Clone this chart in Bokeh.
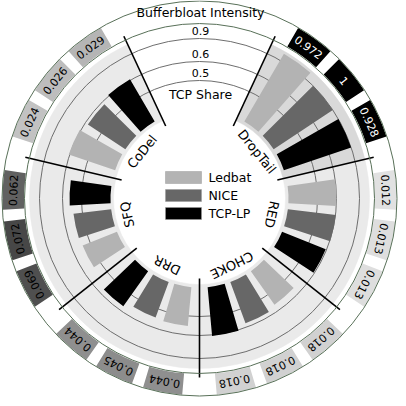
import numpy as np
from bokeh.plotting import figure
from bokeh.models import Range1d, ColumnDataSource, LinearColorMapper
from bokeh.palettes import Greys256
from bokeh.embed import file_html
from bokeh.resources import INLINE
from bokeh.core.properties import value

# ---------------- data ----------------
aqms = ["DropTail", "RED", "CHOKE", "DRR", "SFQ", "CoDel"]
protocols = ["Ledbat", "NICE", "TCP-LP"]
share_ledbat = [1.0, 0.600, 0.563, 0.553, 0.542, 0.613]
share_nice = [0.9, 0.605, 0.579, 0.547, 0.547, 0.584]
share_tcplp = [0.9, 0.595, 0.613, 0.574, 0.563, 0.613]
bloat_ledbat = [0.972, 0.012, 0.018, 0.044, 0.069, 0.024]
bloat_nice = [1, 0.013, 0.018, 0.045, 0.072, 0.026]
bloat_tcplp = [0.928, 0.013, 0.018, 0.044, 0.062, 0.029]
tick_values = [0.5, 0.6, 0.9]

# ---------------- layout / style ----------------
FONT = "DejaVu Sans"
CX, CY = 207.0, -206.0
R_OUT = 197.5
R_RING_IN = 175.0
R_BAND_IN, R_BAND_OUT = 86.0, 170.0
R_BAR0 = 89.0
TICK_R = [118.0, 137.0, 160.0]
R_LABEL = 74.0
R_SEP = (80.0, 179.0)
GAP = np.deg2rad(25.0)
SLOT = np.deg2rad([-15.0, 0.0, 15.0])
BAR_HW = np.deg2rad(5.6)
CELL_HW = np.deg2rad(5.8)
prot_colors = ["#b3b3b3", "#676767", "#000000"]
RING_COLOR = "#587058"
GRID_COLOR = "#6e6e6e"
BAND_LIGHT = "#eaeaea"
BAND_DARK = "#d9d9d9"


def share_to_r(v):
    v = np.asarray(v, float)
    r = np.interp(v, tick_values, TICK_R)
    lo = (TICK_R[1] - TICK_R[0]) / (tick_values[1] - tick_values[0])
    hi = (TICK_R[2] - TICK_R[1]) / (tick_values[2] - tick_values[1])
    r = np.where(v < tick_values[0], TICK_R[0] + (v - tick_values[0]) * lo, r)
    r = np.where(v > tick_values[-1], TICK_R[-1] + (v - tick_values[-1]) * hi, r)
    return r


def px(r, th):
    return CX + r * np.sin(th), CY + r * np.cos(th)


n = len(aqms)
span = (2 * np.pi - 2 * GAP) / n
sec_start = GAP + span * np.arange(n)
sec_center = sec_start + span / 2

shares = [share_ledbat, share_nice, share_tcplp]
bloats = [bloat_ledbat, bloat_nice, bloat_tcplp]

bar = dict(r=[], c=[], sa=[], ea=[])
cell = dict(v=[], txt=[], tc=[], sa=[], ea=[], x=[], y=[], ang=[])
for i in range(n):
    for j in range(3):
        th = sec_center[i] + SLOT[j]
        bar["r"].append(float(share_to_r(shares[j][i])))
        bar["c"].append(prot_colors[j])
        bar["sa"].append(np.pi / 2 - (th + BAR_HW))
        bar["ea"].append(np.pi / 2 - (th - BAR_HW))
        v = bloats[j][i]
        cell["v"].append(v)
        cell["txt"].append(f"{v:g}")
        cell["tc"].append("#ffffff" if v > 0.5 else "#000000")
        cell["sa"].append(np.pi / 2 - (th + CELL_HW))
        cell["ea"].append(np.pi / 2 - (th - CELL_HW))
        x, y = px((R_RING_IN + R_OUT) / 2, th)
        cell["x"].append(x)
        cell["y"].append(y)
        cell["ang"].append(-th)

p = figure(width=398, height=398, x_range=Range1d(8, 406), y_range=Range1d(-406, -8),
           output_backend="svg", toolbar_location=None, min_border=0)
p.axis.visible = False
p.grid.visible = False
p.outline_line_color = None
p.background_fill_color = "white"

# background band of the TCP share track (darker where bufferbloat is high)
sec_bloat = [np.mean([b[i] for b in bloats]) for i in range(n)]
band_src = ColumnDataSource(dict(
    sa=list(np.pi / 2 - (sec_start + span)), ea=list(np.pi / 2 - sec_start),
    c=[BAND_DARK if b > 0.5 else BAND_LIGHT for b in sec_bloat]))
p.annular_wedge(x=CX, y=CY, inner_radius=R_BAND_IN, outer_radius=R_BAND_OUT,
                start_angle="sa", end_angle="ea", fill_color="c", line_color="c",
                line_width=0.5, source=band_src)

# gridlines
p.circle(x=[CX] * 3, y=[CY] * 3, radius=TICK_R, fill_color=None,
         line_color=GRID_COLOR, line_width=1)

# bars
bsrc = ColumnDataSource(bar)
p.annular_wedge(x=CX, y=CY, inner_radius=R_BAR0, outer_radius="r", start_angle="sa",
                end_angle="ea", fill_color="c", line_color=None, source=bsrc)

# separators
sep_th = GAP + span * np.arange(n + 1)
x0, y0 = px(R_SEP[0], sep_th)
x1, y1 = px(R_SEP[1], sep_th)
p.segment(x0=x0, y0=y0, x1=x1, y1=y1, line_color="black", line_width=1.6)

# bufferbloat cells
mapper = LinearColorMapper(palette=list(reversed(Greys256)), low=0.0, high=0.1,
                           high_color="#000000")
csrc = ColumnDataSource(cell)
p.annular_wedge(x=CX, y=CY, inner_radius=R_RING_IN + 0.5, outer_radius=R_OUT - 0.5,
                start_angle="sa", end_angle="ea",
                fill_color={"field": "v", "transform": mapper}, line_color=None, source=csrc)
p.circle(x=[CX, CX], y=[CY, CY], radius=[R_OUT, R_RING_IN], fill_color=None,
         line_color=RING_COLOR, line_width=1)
p.text(x="x", y="y", text="txt", angle="ang", text_color="tc", source=csrc,
       text_font=value(FONT), text_font_size="11px", text_align="center",
       text_baseline="middle")

# sector labels
lx, ly = px(R_LABEL, sec_center)
p.text(x=lx, y=ly, text=aqms, angle=-sec_center, text_font=value(FONT),
       text_font_size="13px", text_align="center", text_baseline="middle")

# axis labels in the top gap
p.text(x=[CX + 1] * 2, y=[CY + (R_RING_IN + R_OUT) / 2, CY + 104],
       text=["Bufferbloat Intensity", "TCP Share"], text_font=value(FONT),
       text_font_size="12.5px", text_align="center", text_baseline="middle")
p.text(x=[CX + 1] * 3, y=[CY + r + 8 for r in TICK_R], text=[f"{t:g}" for t in tick_values],
       text_font=value(FONT), text_font_size="11px", text_align="center",
       text_baseline="middle")

# legend
LEG_X, LEG_Y, LEG_DY = 191.0, -185.0, -18.0
ly = [LEG_Y + k * LEG_DY for k in range(3)]
p.rect(x=[LEG_X] * 3, y=ly, width=36, height=12, fill_color=prot_colors,
       line_color="#9a9a9a", line_width=0.5)
p.text(x=[LEG_X + 25] * 3, y=ly, text=protocols, text_font=value(FONT),
       text_font_size="12.5px", text_align="left", text_baseline="middle")

open("out.html", "w").write(file_html(p, INLINE))
